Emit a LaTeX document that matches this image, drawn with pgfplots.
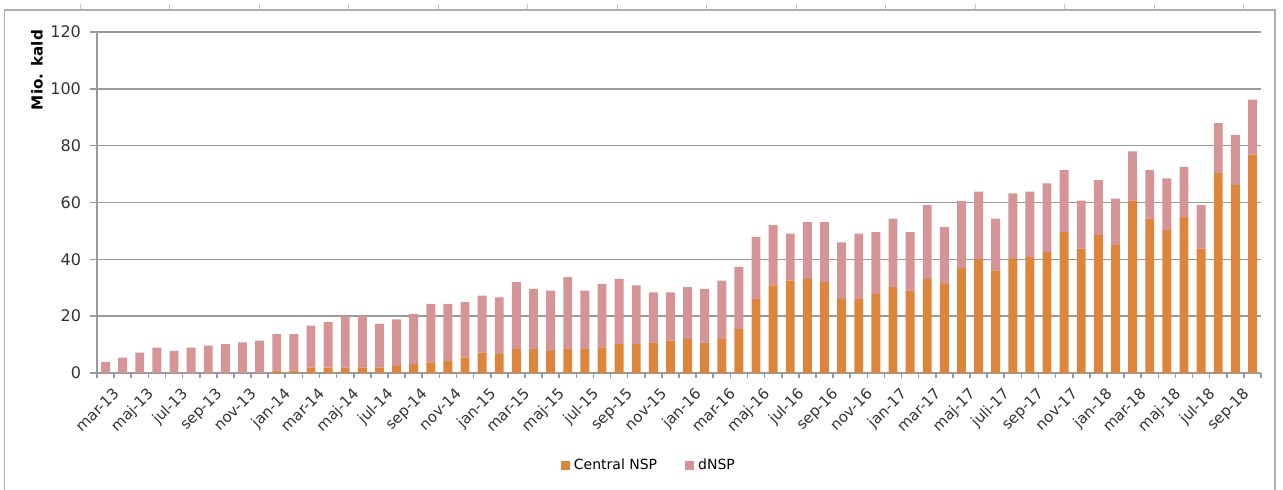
\documentclass[border=0pt]{standalone}
\usepackage{pgfplots}
\pgfplotsset{compat=1.18}
\usepackage{pgfplotstable}
\usepackage{fontspec}
\setmainfont{DejaVu Sans}
\definecolor{centralnsp}{HTML}{DE853C}
\definecolor{dnsp}{HTML}{D59496}
\definecolor{gridgray}{HTML}{9A9A9A}

% idx central dnsp
\pgfplotstableread{
idx central dnsp
0 0 3.8
1 0 5.4
2 0 7.2
3 0 8.9
4 0 7.8
5 0 8.9
6 0 9.6
7 0 10.2
8 0 10.8
9 0 11.4
10 0.8 12.9
11 0.8 12.9
12 1.9 14.8
13 1.9 16.0
14 1.9 18.1
15 1.9 18.3
16 1.9 15.4
17 2.5 16.4
18 3.1 17.7
19 3.7 20.6
20 4.3 20.0
21 5.4 19.5
22 7.2 20.0
23 6.6 20.0
24 8.4 23.6
25 8.4 21.2
26 7.8 21.2
27 8.4 25.3
28 8.4 20.6
29 9.0 22.4
30 10.2 22.9
31 10.2 20.6
32 10.8 17.6
33 11.4 17.0
34 12.0 18.2
35 10.8 18.8
36 12.0 20.5
37 15.5 21.8
38 26.0 21.9
39 30.8 21.2
40 32.5 16.5
41 33.1 20.0
42 32.0 21.1
43 26.0 20.0
44 26.0 23.0
45 27.8 21.8
46 30.2 24.1
47 29.0 20.6
48 33.1 26.0
49 31.4 20.0
50 36.9 23.6
51 40.2 23.6
52 36.1 18.2
53 40.2 23.0
54 40.8 23.0
55 42.6 24.1
56 49.7 21.7
57 43.8 16.9
58 48.5 19.4
59 45.0 16.4
60 60.7 17.3
61 54.3 17.1
62 50.3 18.2
63 54.9 17.6
64 43.8 15.3
65 70.3 17.6
66 66.2 17.6
67 76.8 19.4
}\nsp

\begin{document}
\begin{tikzpicture}[x=0.5pt,y=0.5pt]
  % page and chart frame
  \path[use as bounding box] (0,0) rectangle (1283,490);
  \draw[gridgray!80,line width=0.6pt] (4.5,0) -- (4.5,480) -- (1275,480) -- (1275,0);
  \foreach \k in {0,...,13}
    \draw[gridgray!60,line width=0.5pt] (80+89.5*\k,480) -- (80+89.5*\k,486);

  \begin{axis}[
      at={(48.5pt,58.5pt)}, anchor=south west,
      scale only axis,
      width=582pt, height=170.5pt,
      ybar stacked,
      bar width=0.52,
      xmin=-0.5, xmax=67.5,
      ymin=0, ymax=120,
      ytick={0,20,...,120},
      axis x line*=bottom,
      axis y line*=left,
      axis line style={gridgray,line width=0.8pt},
      ymajorgrids,
      major grid style={gridgray,line width=0.8pt},
      tick align=outside,
      y tick style={gridgray,line width=0.8pt},
      major tick length=3.5pt,
      xtick={0,2,...,66},
      xticklabels={mar-13,maj-13,jul-13,sep-13,nov-13,jan-14,mar-14,maj-14,jul-14,sep-14,nov-14,jan-15,mar-15,maj-15,jul-15,sep-15,nov-15,jan-16,mar-16,maj-16,jul-16,sep-16,nov-16,jan-17,mar-17,maj-17,juli-17,sep-17,nov-17,jan-18,mar-18,maj-18,jul-18,sep-18},
      major x tick style={draw=none},
      minor xtick={-0.5,0.5,...,67.5},
      minor x tick style={gridgray,line width=0.8pt},
      minor tick length=2.5pt,
      /pgf/number format/assume math mode=true,
      tick label style={font=\fontsize{7.5}{8.5}\selectfont, text=black!80},
      xticklabel style={rotate=45, anchor=north east, inner sep=0.5pt, yshift=-4pt, xshift=0.5pt},
      yticklabel style={font=\fontsize{8}{9}\selectfont, xshift=-1pt},
      legend style={at={(0.475,-0.273)}, anchor=center, draw=none,
        legend columns=2, font=\fontsize{7}{8}\selectfont,
        /tikz/every even column/.append style={column sep=12pt}},
      legend image code/.code={\fill[#1] (0pt,-2pt) rectangle (4.5pt,2.5pt);},
    ]
    \addplot[fill=centralnsp, draw=none] table[x=idx, y=central] {\nsp};
    \addlegendentry{Central NSP}
    \addplot[fill=dnsp, draw=none] table[x=idx, y=dnsp] {\nsp};
    \addlegendentry{dNSP}
  \end{axis}
  \node[rotate=90, font=\bfseries\fontsize{7.6}{8}\selectfont] at (37,420) {Mio. kald};
\end{tikzpicture}
\end{document}
